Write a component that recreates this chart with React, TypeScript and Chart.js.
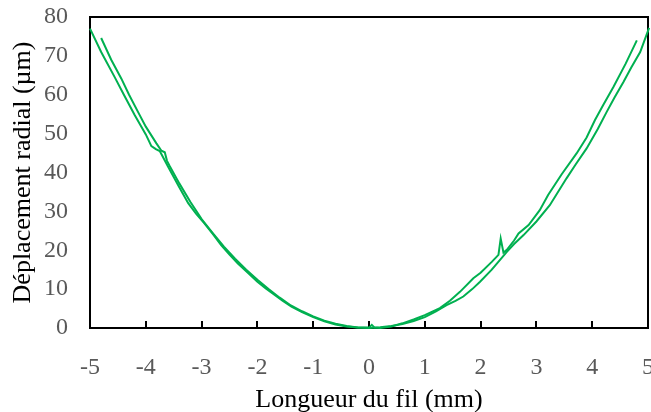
import React, { useEffect, useRef } from "react";
import { Chart, registerables } from "chart.js";

Chart.register(...registerables);

// Series A (outer curve, full length)
const xA = [-5.0, -4.8, -4.56, -4.4, -4.2, -4.0, -3.9, -3.82, -3.75, -3.6, -3.4, -3.24, -3.1, -2.95, -2.8, -2.65, -2.5, -2.35, -2.2, -2.0, -1.85, -1.69, -1.55, -1.39, -1.2, -1.0, -0.8, -0.6, -0.4, -0.2, 0.0, 0.2, 0.4, 0.6, 0.8, 1.0, 1.2, 1.39, 1.55, 1.69, 1.85, 1.99, 2.2, 2.47, 2.6, 2.77, 3.0, 3.24, 3.54, 3.7, 3.9, 4.1, 4.26, 4.4, 4.56, 4.7, 4.86, 5.02];
const yA = [77.0, 71.0, 64.6, 60.2, 54.8, 49.8, 46.8, 46.0, 45.5, 41.5, 36.2, 32.1, 29.4, 26.9, 24.2, 21.3, 18.9, 16.6, 14.6, 11.9, 10.2, 8.5, 7.0, 5.5, 4.1, 2.8, 1.7, 0.9, 0.4, 0.1, 0.0, 0.2, 0.5, 1.0, 1.8, 2.8, 4.3, 5.9, 7.0, 8.1, 10.0, 11.9, 15.0, 19.6, 21.6, 23.9, 27.4, 31.6, 38.5, 42.0, 46.2, 51.2, 55.6, 59.3, 63.3, 67.0, 71.0, 77.2];

// Series B (inner curve, slightly shorter)
const xB = [-4.8, -4.62, -4.44, -4.3, -4.14, -4.0, -3.81, -3.72, -3.66, -3.62, -3.57, -3.4, -3.2, -3.0, -2.8, -2.6, -2.4, -2.2, -2.0, -1.8, -1.6, -1.4, -1.2, -1.0, -0.8, -0.6, -0.4, -0.2, 0.0, 0.05, 0.1, 0.2, 0.4, 0.6, 0.8, 1.0, 1.27, 1.45, 1.63, 1.87, 2.0, 2.2, 2.32, 2.36, 2.41, 2.47, 2.6, 2.68, 2.86, 3.06, 3.21, 3.45, 3.72, 3.9, 4.05, 4.2, 4.38, 4.6, 4.8];
const yB = [74.6, 69.0, 64.2, 60.0, 55.6, 51.8, 47.5, 45.6, 45.2, 43.0, 41.6, 37.2, 32.4, 28.0, 24.4, 20.9, 17.8, 15.0, 12.4, 10.0, 7.8, 5.8, 4.3, 3.0, 1.9, 1.1, 0.5, 0.1, 0.1, 0.8, 0.1, 0.0, 0.4, 1.2, 2.2, 3.3, 5.1, 7.0, 9.3, 12.8, 14.2, 17.0, 18.8, 23.0, 19.4, 20.1, 22.5, 24.3, 26.5, 30.3, 34.2, 39.5, 44.9, 49.0, 53.5, 57.4, 62.0, 68.0, 74.0];

const xTickValues = [-5, -4, -3, -2, -1, 0, 1, 2, 3, 4, 5];
const yTickValues = [0, 10, 20, 30, 40, 50, 60, 70, 80];

const xTitle = "Longueur du fil (mm)";
const yTitle = "Déplacement radial (µm)";

const GREEN = "#00B050";
const TICK_COLOR = "#595959";
const FONT = "'Liberation Serif', 'Times New Roman', serif";

const framePlugin = {
  id: "frame",
  beforeDatasetsDraw(chart: any) {
    const { ctx, chartArea } = chart;
    const { left, top, right, bottom } = chartArea;
    const xs = chart.scales.x;
    ctx.save();
    ctx.strokeStyle = "#000";
    ctx.lineWidth = 2;
    ctx.strokeRect(left, top, right - left, bottom - top);
    ctx.beginPath();
    xTickValues.forEach((v) => {
      if (v > xs.min && v < xs.max) {
        const px = Math.round(xs.getPixelForValue(v));
        ctx.moveTo(px, bottom);
        ctx.lineTo(px, bottom - 7);
      }
    });
    ctx.stroke();
    ctx.restore();
  },
};

export default function App() {
  const ref = useRef<HTMLCanvasElement>(null);

  useEffect(() => {
    if (!ref.current) return;
    const mk = (xs: number[], ys: number[]) => xs.map((x, i) => ({ x, y: ys[i] }));
    const lineStyle = {
      showLine: true,
      borderColor: GREEN,
      backgroundColor: GREEN,
      borderWidth: 2,
      pointRadius: 0,
      tension: 0,
      clip: false,
    };
    const chart = new Chart(ref.current, {
      type: "scatter",
      data: {
        datasets: [
          { data: mk(xA, yA), ...lineStyle },
          { data: mk(xB, yB), ...lineStyle },
        ],
      },
      options: {
        animation: false,
        responsive: false,
        layout: { padding: { left: 0, right: 3, top: 17, bottom: 0 } },
        plugins: { legend: { display: false }, tooltip: { enabled: false } },
        scales: {
          x: {
            type: "linear",
            min: -5,
            max: 5,
            afterBuildTicks: (s: any) => {
              s.ticks = xTickValues.map((v) => ({ value: v }));
            },
            afterFit: (s: any) => {
              s.height = 84;
              s.paddingLeft = 0;
              s.paddingRight = 0;
            },
            ticks: {
              color: TICK_COLOR,
              font: { family: FONT, size: 24 },
              padding: 25,
              maxRotation: 0,
              autoSkip: false,
              callback: (v: any) => String(v),
            },
            grid: { display: false, drawTicks: false },
            border: { display: false },
            title: {
              display: true,
              text: xTitle,
              color: "#000",
              font: { family: FONT, size: 26 },
              padding: { top: 0, bottom: -4 },
            },
          },
          y: {
            type: "linear",
            min: 0,
            max: 80,
            afterBuildTicks: (s: any) => {
              s.ticks = yTickValues.map((v) => ({ value: v }));
            },
            afterFit: (s: any) => {
              s.width = 90;
              s.paddingTop = 0;
              s.paddingBottom = 0;
            },
            ticks: {
              color: TICK_COLOR,
              font: { family: FONT, size: 24 },
              padding: 22,
              autoSkip: false,
              callback: (v: any) => String(v),
            },
            grid: { display: false, drawTicks: false },
            border: { display: false },
            title: {
              display: true,
              text: yTitle,
              color: "#000",
              font: { family: FONT, size: 26 },
              padding: { top: 8, bottom: 0 },
            },
          },
        },
      },
      plugins: [framePlugin],
    } as any);
    return () => chart.destroy();
  }, []);

  return (
    <div style={{ position: "fixed", left: 0, top: 0, width: 651, height: 412, background: "#fff" }}>
      <canvas ref={ref} width={651} height={412} style={{ width: 651, height: 412 }} />
    </div>
  );
}
